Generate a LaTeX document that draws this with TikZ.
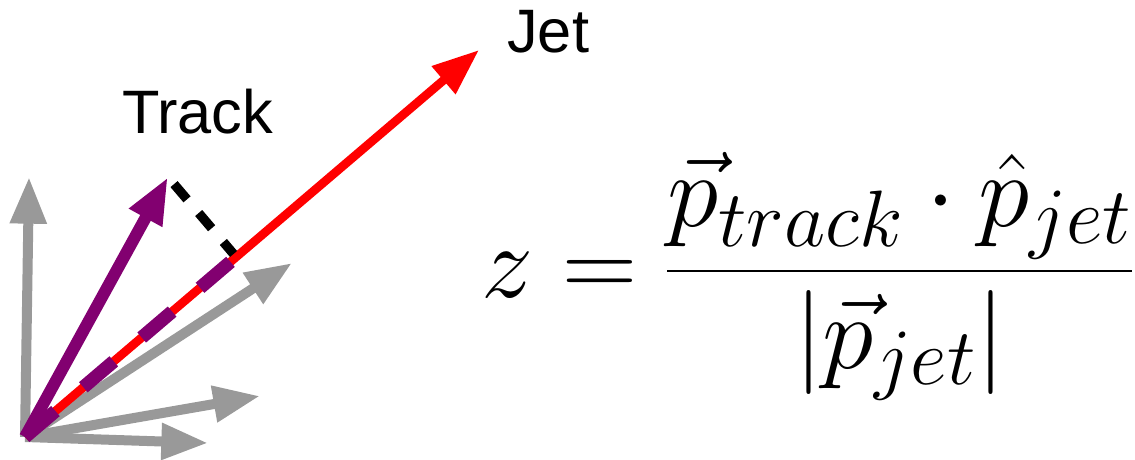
\RequirePackage{fix-cm}
\documentclass[tikz,border=0pt]{standalone}
\usepackage{amsmath}
\usepackage{fontspec}
\newfontfamily\labelfont{Liberation Sans}
\DeclareMathSizes{78}{78}{60}{46}
\usetikzlibrary{arrows.meta,calc}
\definecolor{trackpurple}{RGB}{130,0,112}
\definecolor{softgrey}{RGB}{153,153,153}
\begin{document}
\begin{tikzpicture}[x=0.75pt,y=-0.75pt,
  vecarrow/.style={-{Triangle[length=35pt,width=26pt]}},
  label/.style={inner sep=0pt,font=\labelfont\fontsize{46}{54}\selectfont}]
\useasboundingbox (0,0) rectangle (1135,460);
% points
\coordinate (o) at (25,437);
\coordinate (jet) at (479,50);
\coordinate (trk) at (168,177);
\coordinate (foot) at ($(o)!(trk)!(jet)$);
\coordinate (g1) at (29,177);
\coordinate (g2) at (292,263);
\coordinate (g3) at (260,396);
\coordinate (g4) at (208,443);
% other particles
\foreach \g in {g1,g2,g3,g4}
  \draw[vecarrow,softgrey,line width=7.5pt] (o) -- (\g);
% jet axis
\draw[vecarrow,red,line width=6.5pt] (o) -- (jet);
% projection of the track
\draw[trackpurple,line width=10pt,dash pattern=on 30pt off 27.5pt] (o) -- (foot);
\draw[vecarrow,trackpurple,line width=9pt] (o) -- (trk);
\draw[black,line width=7pt,dash pattern=on 15pt off 13.5pt,
  shorten <=7pt,shorten >=3pt] (trk) -- (foot);
\node[label,anchor=base west] (tracklabel) at (122,133) {Track};
\node[label,anchor=base west] (jetlabel) at (507,53) {Jet};
\node[anchor=base west,inner sep=0pt,font=\fontsize{78}{94}\selectfont] (zdef) at (481,297)
  {$\displaystyle z=\frac{\vec{p}_{track}\cdot\hat{p}_{jet}}{|\vec{p}_{jet}|}$};
\end{tikzpicture}
\end{document}
